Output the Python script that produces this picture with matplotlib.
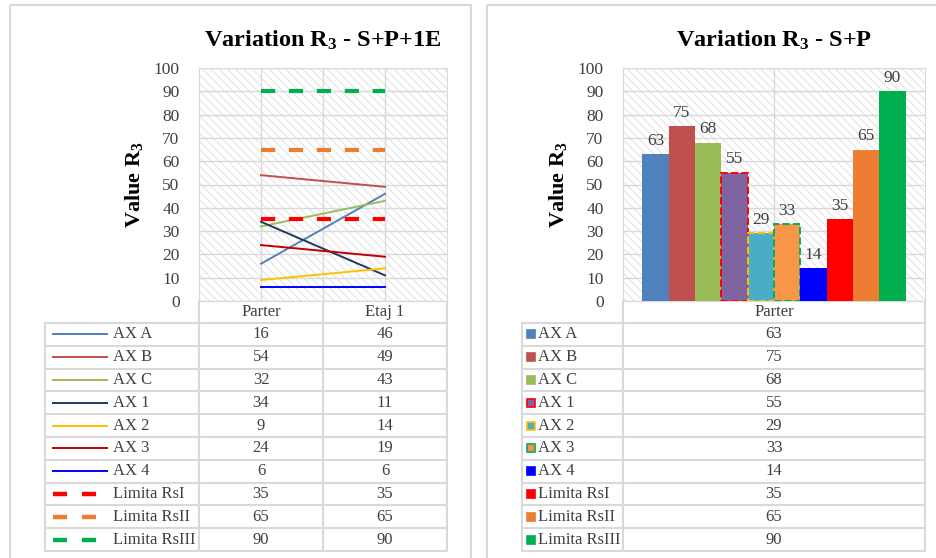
import numpy as np
import matplotlib.pyplot as plt
from matplotlib.patches import Rectangle

plt.rcParams['font.family'] = 'Liberation Serif'
plt.rcParams['mathtext.fontset'] = 'custom'
plt.rcParams['mathtext.rm'] = 'Liberation Serif:bold'
plt.rcParams['mathtext.it'] = 'Liberation Serif:bold'
plt.rcParams['mathtext.bf'] = 'Liberation Serif:bold'
plt.rcParams['hatch.linewidth'] = 0.6

# ---- data ----
series_names = ["AX A", "AX B", "AX C", "AX 1", "AX 2", "AX 3", "AX 4",
                "Limita RsI", "Limita RsII", "Limita RsIII"]
levels_1e = ["Parter", "Etaj 1"]
parter_1e = [16, 54, 32, 34, 9, 24, 6, 35, 65, 90]
etaj1_1e = [46, 49, 43, 11, 14, 19, 6, 35, 65, 90]
levels_sp = ["Parter"]
parter_sp = [63, 75, 68, 55, 29, 33, 14, 35, 65, 90]
yticks = np.arange(0, 101, 10)

line_colors = ["#4F81BD", "#C0504D", "#9BBB59", "#1F3864", "#FFC000",
               "#C00000", "#0000FF", "#FF0000", "#ED7D31", "#00B050"]
bar_colors = ["#4F81BD", "#C0504D", "#9BBB59", "#8064A2", "#4BACC6",
              "#F79646", "#0000FF", "#FF0000", "#ED7D31", "#00B050"]
bar_edges = [None, None, None, "#FF0000", "#FFC000", "#00B050", None,
             None, None, None]

W, H = 937, 558
GRID = "#D9D9D9"
TXT = "#404040"
FS = 12

fig = plt.figure(figsize=(W / 100, H / 100), dpi=100)


def px_axes(x0, y0, x1, y1):
    return fig.add_axes([x0 / W, 1 - y1 / H, (x1 - x0) / W, (y1 - y0) / H])


over = fig.add_axes([0, 0, 1, 1])
over.set_xlim(0, W)
over.set_ylim(H, 0)
over.axis('off')
over.set_zorder(0)

# panel borders
over.add_patch(Rectangle((10, 5), 461, 580, fill=False, ec=GRID, lw=1.5))
over.add_patch(Rectangle((487, 5), 460, 580, fill=False, ec=GRID, lw=1.5))


def style_chart(ax, title, xv):
    ax.set_zorder(2)
    ax.add_patch(Rectangle((0, 0), 1, 1, transform=ax.transAxes, fc='white',
                           ec="#DCDCDC", hatch='\\\\\\\\', lw=0, zorder=0))
    ax.set_ylim(0, 100)
    ax.set_yticks(yticks)
    ax.set_xticks([])
    ax.tick_params(axis='y', length=0, labelsize=12.5, labelcolor=TXT, pad=14)
    for y in yticks:
        ax.axhline(y, color=GRID, lw=1, zorder=1)
    for x in xv:
        ax.axvline(x, color=GRID, lw=1, zorder=1)
    for s in ax.spines.values():
        s.set_color(GRID)
    ax.set_title(title, fontsize=17.5, fontweight='bold', pad=15)
    ax.set_ylabel(r"Value R$_3$", fontsize=16, fontweight='bold', labelpad=6)


# ---- left chart ----
ax1 = px_axes(199, 68, 447, 301)
ax1.set_xlim(0, 2)
style_chart(ax1, r"Variation R$_3$ - S+P+1E", [0.5, 1.0, 1.5])
xpos = np.arange(len(levels_1e)) + 0.5
for i, name in enumerate(series_names):
    vals = [parter_1e[i], etaj1_1e[i]]
    if name.startswith("Limita"):
        ax1.plot(xpos, vals, color=line_colors[i], lw=3, dashes=(3.4, 3.3),
                 zorder=3)
    else:
        ax1.plot(xpos, vals, color=line_colors[i], lw=1.4, zorder=3)

# ---- right chart ----
ax2 = px_axes(623, 68, 925, 301)
ax2.set_xlim(0, 1)
style_chart(ax2, r"Variation R$_3$ - S+P", [0.5])
bw = 0.0871
bx = 0.5 + (np.arange(len(parter_sp)) - 4.5) * bw
for i, v in enumerate(parter_sp):
    if bar_edges[i]:
        ax2.bar(bx[i], v, bw, color=bar_colors[i], ec=bar_edges[i], lw=1.4,
                ls='--', zorder=3)
    else:
        ax2.bar(bx[i], v, bw, color=bar_colors[i], lw=0, zorder=3)
    ax2.annotate(str(v), (bx[i], v), xytext=(0, 4), textcoords='offset points',
                 ha='center', va='bottom', fontsize=12.5, color=TXT)

# ---- data tables ----
row_top = 323
row_h = 22.8
n = len(series_names)


def draw_grid(cols, header_left):
    y_end = row_top + n * row_h
    over.plot([header_left, cols[-1]], [301, 301], color=GRID, lw=1.5)
    for k in range(n + 1):
        y = row_top + k * row_h
        over.plot([cols[0], cols[-1]], [y, y], color=GRID, lw=1.5)
    over.plot([cols[0], cols[0]], [row_top, y_end], color=GRID, lw=1.5)
    for x in cols[1:]:
        over.plot([x, x], [301, y_end], color=GRID, lw=1.5)


# left table
cols_l = [45, 199, 323, 447]
draw_grid(cols_l, 199)
for j, lev in enumerate(levels_1e):
    over.text((cols_l[j + 1] + cols_l[j + 2]) / 2, 312, lev, ha='center',
              va='center', fontsize=FS, color=TXT)
for i, name in enumerate(series_names):
    yc = row_top + (i + 0.5) * row_h
    if name.startswith("Limita"):
        over.plot([53, 67], [yc, yc], color=line_colors[i], lw=3.2,
                  solid_capstyle='butt')
        over.plot([82, 96], [yc, yc], color=line_colors[i], lw=3.2,
                  solid_capstyle='butt')
    else:
        over.plot([53, 107], [yc, yc], color=line_colors[i], lw=1.4)
    over.text(113, yc, name, ha='left', va='center', fontsize=FS, color=TXT)
    over.text((cols_l[1] + cols_l[2]) / 2, yc, str(parter_1e[i]), ha='center',
              va='center', fontsize=FS, color=TXT)
    over.text((cols_l[2] + cols_l[3]) / 2, yc, str(etaj1_1e[i]), ha='center',
              va='center', fontsize=FS, color=TXT)

# right table
cols_r = [522, 623, 925]
draw_grid(cols_r, 623)
over.text((cols_r[1] + cols_r[2]) / 2, 312, levels_sp[0], ha='center',
          va='center', fontsize=FS, color=TXT)
for i, name in enumerate(series_names):
    yc = row_top + (i + 0.5) * row_h
    ec = bar_edges[i] if bar_edges[i] else bar_colors[i]
    over.add_patch(Rectangle((527.5, yc - 4), 8, 8, fc=bar_colors[i], ec=ec,
                             lw=1.2))
    over.text(538, yc, name, ha='left', va='center', fontsize=FS, color=TXT)
    over.text((cols_r[1] + cols_r[2]) / 2, yc, str(parter_sp[i]), ha='center',
              va='center', fontsize=FS, color=TXT)

fig.savefig("out.png", dpi=100)
